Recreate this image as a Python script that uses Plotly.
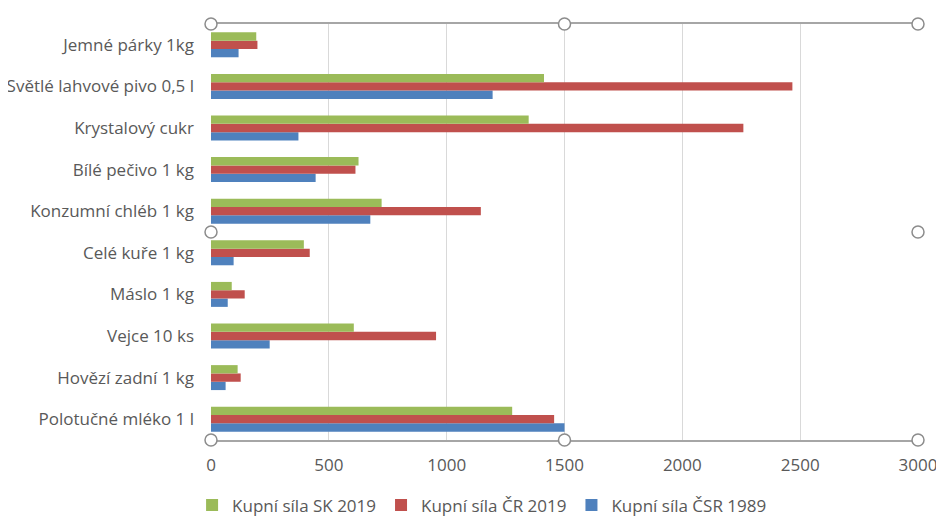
import plotly.graph_objects as go

# categories listed bottom -> top (plotly category axis grows upward)
categories = ["Polotučné mléko 1 l", "Hovězí zadní 1 kg", "Vejce 10 ks", "Máslo 1 kg",
              "Celé kuře 1 kg", "Konzumní chléb 1 kg", "Bílé pečivo 1 kg",
              "Krystalový cukr", "Světlé lahvové pivo 0,5 l", "Jemné párky 1kg"]

csr_1989 = [1500, 62, 249, 71, 96, 676, 444, 371, 1195, 117]
cr_2019 = [1456, 126, 955, 143, 419, 1145, 613, 2259, 2467, 197]
sk_2019 = [1278, 113, 606, 88, 394, 724, 626, 1348, 1413, 192]

series = [("Kupní síla ČSR 1989", csr_1989, "#4F81BD"),
          ("Kupní síla ČR 2019", cr_2019, "#C0504D"),
          ("Kupní síla SK 2019", sk_2019, "#9BBB59")]

fig = go.Figure()
for name, vals, col in series:
    fig.add_trace(go.Bar(y=categories, x=vals, name=name, orientation="h",
                         marker_color=col, marker_line_width=0))

# page body has an 8px margin, so margins are shifted to compensate
fig.update_layout(
    width=944, height=531,
    margin=dict(l=203, r=34, t=16, b=99),
    barmode="group", bargap=0.4, bargroupgap=0,
    plot_bgcolor="white", paper_bgcolor="white",
    font=dict(family="Open Sans, sans-serif", size=17, color="#595959"),
    legend=dict(orientation="h", traceorder="reversed", xref="container", yref="container",
                x=0.195, xanchor="left", y=0.063, yanchor="middle", itemwidth=30,
                font=dict(size=17, color="#595959")),
    showlegend=True,
)
fig.update_xaxes(range=[0, 3000], dtick=500, showgrid=True, gridcolor="#D9D9D9", gridwidth=1,
                 zeroline=False, showline=True, mirror=True, linecolor="#A6A6A6", linewidth=1.5,
                 ticklabelstandoff=9, automargin=False,
                 tickfont=dict(size=17, color="#595959"))
fig.update_yaxes(showgrid=False, showline=False, ticklabelstandoff=16, automargin=False,
                 tickfont=dict(size=17, color="#595959"))

# selection handles of the plot area, as in the screenshot
for hx in (0, 0.5, 1):
    for hy in (0, 0.5, 1):
        if hx == 0.5 and hy == 0.5:
            continue
        fig.add_shape(type="circle", xref="paper", yref="paper", xsizemode="pixel", ysizemode="pixel",
                      xanchor=hx, yanchor=hy, x0=-6, x1=6, y0=-6, y1=6,
                      fillcolor="white", line=dict(color="#8C8C8C", width=1.5))

fig.write_html("out.html")
